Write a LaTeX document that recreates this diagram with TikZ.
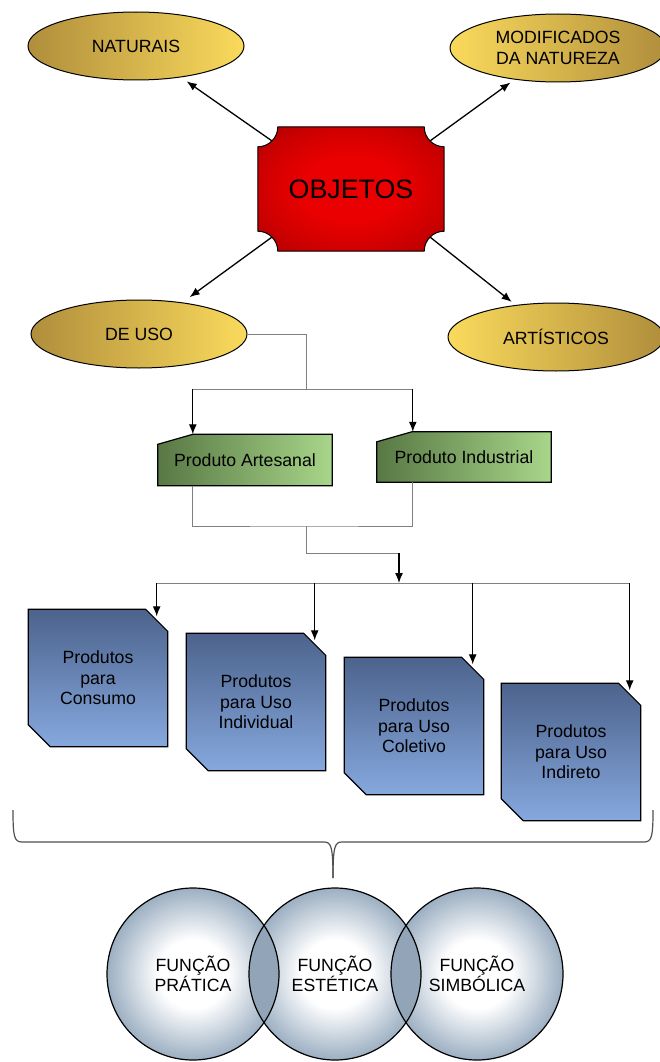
\documentclass[tikz,border=0pt]{standalone}
\usepackage{fontspec}
\setmainfont{Liberation Sans}
\usepackage{tikz}
\usetikzlibrary{arrows.meta, shapes.geometric, backgrounds}

\definecolor{golddark}{RGB}{176,142,60}
\definecolor{goldlight}{RGB}{250,218,92}
\definecolor{redlight}{RGB}{234,0,0}
\definecolor{redmid}{RGB}{206,0,0}
\definecolor{reddark}{RGB}{170,0,0}
\definecolor{greendark}{RGB}{88,120,68}
\definecolor{greenlight}{RGB}{168,214,138}
\definecolor{bluedark}{RGB}{76,99,140}
\definecolor{bluelight}{RGB}{134,168,222}
\definecolor{funcedge}{RGB}{156,175,194}
\definecolor{funclens}{RGB}{146,164,183}
\definecolor{linkgray}{RGB}{128,128,128}
\definecolor{bracegray}{RGB}{80,80,80}

\pgfdeclareradialshading{objshade}{\pgfpoint{0bp}{0bp}}{color(0bp)=(redlight); color(13bp)=(redlight); color(25bp)=(redmid); color(36bp)=(reddark); color(50bp)=(reddark)}
\pgfdeclareradialshading{funcshade}{\pgfpoint{0bp}{0bp}}{color(0bp)=(white); color(10bp)=(white); color(25bp)=(funcedge); color(50bp)=(funcedge)}

\begin{document}
\begin{tikzpicture}[
  x=1pt, y=-1pt,
  every node/.style={font=\fontsize{17.7}{20.5}\selectfont, align=center, inner sep=0pt},
  oval/.style={ellipse, draw, line width=1pt, minimum width=216pt, minimum height=68pt},
  ovalL/.style={oval, left color=golddark, right color=goldlight},
  ovalR/.style={oval, left color=goldlight, right color=golddark},
  tagbox/.style={minimum width=174pt, minimum height=51pt},
  prodbox/.style={minimum width=139pt, minimum height=137pt},
  funcao/.style={circle, minimum size=172pt, shade, shading=funcshade},
  ray/.style={line width=1.3pt, -{Latex[length=10pt,width=8pt]}},
  link/.style={linkgray, line width=1pt},
  drop/.style={line width=1.3pt, -{Latex[length=10pt,width=8pt]}}
]
\useasboundingbox (0,0) rectangle (659,1062);

\node[ovalL] (nat) at (136,46) {NATURAIS};
\node[ovalR] (mod) at (558,48) {MODIFICADOS\\DA NATUREZA};
\node[ovalL] (uso) at (139,334) {DE USO};
\node[ovalR] (artis) at (556,337) {ARTÍSTICOS};

\node[minimum width=186pt, minimum height=124pt, font=\fontsize{26.8}{30}\selectfont] (obj) at (351,189) {OBJETOS};
\begin{scope}[on background layer]
  \shade[draw, line width=1pt, shading=objshade]
    ([xshift=20pt]obj.north west) -- ([xshift=-20pt]obj.north east)
    arc[start angle=180, end angle=270, radius=20pt] -- ([yshift=20pt]obj.south east)
    arc[start angle=90, end angle=180, radius=20pt] -- ([xshift=20pt]obj.south west)
    arc[start angle=0, end angle=90, radius=20pt] -- ([yshift=-20pt]obj.north west)
    arc[start angle=270, end angle=360, radius=20pt] -- cycle;
\end{scope}

% setas a partir dos cantos
\coordinate (obj-nw) at ([shift={(14,14)}]obj.north west);
\coordinate (obj-ne) at ([shift={(-14,14)}]obj.north east);
\coordinate (obj-sw) at ([shift={(14,-14)}]obj.south west);
\coordinate (obj-se) at ([shift={(-14,-14)}]obj.south east);
\draw[ray, shorten >=7pt] (obj-nw) -- (nat);
\draw[ray, shorten >=5pt] (obj-ne) -- (mod);
\draw[ray, shorten >=9pt] (obj-sw) -- (uso);
\draw[ray, shorten >=5pt] (obj-se) -- (artis);

\node[tagbox] (artes) at (245,460) {Produto Artesanal};
\node[tagbox, minimum height=50pt] (indus) at (464,457) {Produto Industrial};
\begin{scope}[on background layer]
  \foreach \t in {artes,indus}
    \shade[draw, line width=1.2pt, left color=greendark, right color=greenlight]
      ([yshift=-10pt]\t.north west) -- ([xshift=35pt]\t.north west) -- (\t.north east)
      -- (\t.south east) -- (\t.south west) -- cycle;
\end{scope}

\coordinate (j1) at (306,389);
\coordinate (artes-in) at ([xshift=35pt]artes.north west);
\coordinate (indus-in) at ([xshift=36pt]indus.north west);
\draw[link] (uso.east) -| (j1);
\draw[link] (artes-in |- j1) -- (indus-in |- j1);
\draw[drop] (artes-in |- j1) -- (artes-in);
\draw[drop] (indus-in |- j1) -- (indus-in);

\coordinate (artes-out) at ([xshift=35pt]artes.south west);
\coordinate (indus-out) at ([xshift=36pt]indus.south west);
\coordinate (j2) at (306,526);
\coordinate (j3) at (399,553);
\coordinate (bus) at (0,583);
\draw[link] (artes-out) |- (j2) -| (indus-out);
\draw[link] (j2) |- (j3);
\draw[drop] (j3) -- (j3 |- bus);

\node[prodbox] (cons) at (98,678) {Produtos\\para\\Consumo};
\node[prodbox] (indiv) at (256,702) {Produtos\\para Uso\\Individual};
\node[prodbox] (colet) at (414,726) {Produtos\\para Uso\\Coletivo};
\node[prodbox] (indir) at (571,752) {Produtos\\para Uso\\Indireto};
\begin{scope}[on background layer]
  \foreach \b in {cons,indiv,colet,indir}
    \shade[draw, line width=1.2pt, top color=bluedark, bottom color=bluelight]
      (\b.north west) -- ([xshift=-22pt]\b.north east) -- ([yshift=-22pt]\b.north east)
      -- (\b.south east) -- ([xshift=22pt]\b.south west) -- ([yshift=22pt]\b.south west) -- cycle;
\end{scope}

\foreach \b in {cons,indiv,colet,indir}
  \coordinate (\b-in) at ([shift={(-11,11)}]\b.north east);
\draw[link] (cons-in |- bus) -- (indir-in |- bus);
\foreach \b in {cons,indiv,colet,indir}
  \draw[drop, shorten >=4pt] (\b-in |- bus) -- (\b-in);

\draw[bracegray, line width=1.2pt]
  (13,810) .. controls (13,836) and (14,842) .. (22,842) -- (324,842)
  .. controls (331,842) and (333,846) .. (333,878);
\draw[bracegray, line width=1.2pt]
  (653,810) .. controls (653,836) and (652,842) .. (644,842) -- (342,842)
  .. controls (335,842) and (333,846) .. (333,878);

\node[funcao] (prat) at (193,974) {FUNÇÃO\\PRÁTICA};
\node[funcao] (este) at (335,974) {FUNÇÃO\\ESTÉTICA};
\node[funcao] (simb) at (477,974) {FUNÇÃO\\SIMBÓLICA};
\foreach \p/\q in {prat/este, este/simb} {
  \begin{scope}
    \clip (\p.center) circle[radius=86pt];
    \fill[funclens] (\q.center) circle[radius=86pt];
  \end{scope}
}
\foreach \c in {prat,este,simb}
  \draw[line width=1.2pt] (\c.center) circle[radius=86pt];
\end{tikzpicture}
\end{document}
